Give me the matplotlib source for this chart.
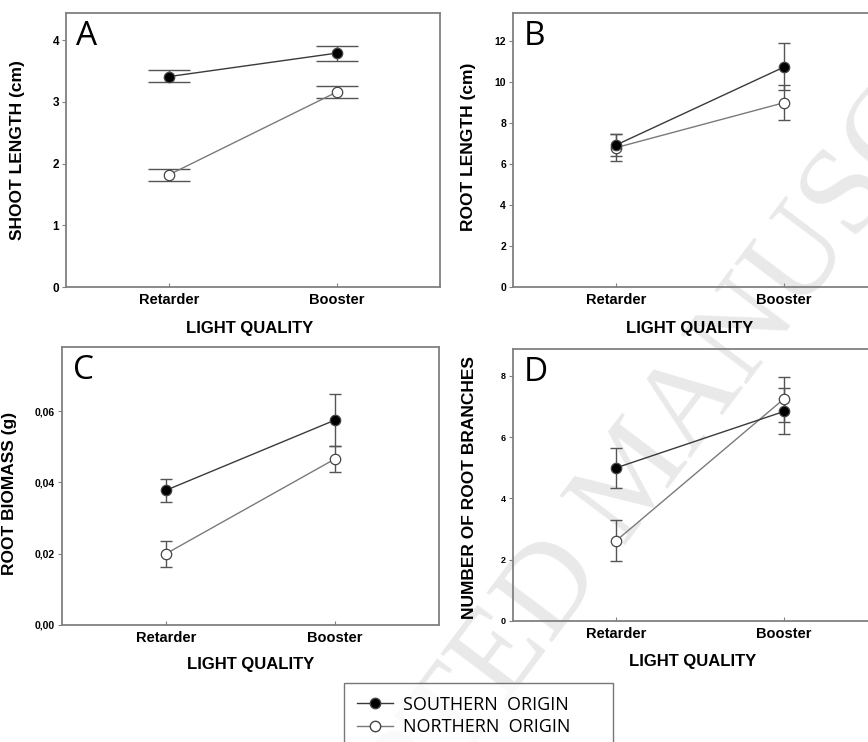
import matplotlib
matplotlib.use("Agg")
import matplotlib.pyplot as plt
from matplotlib.lines import Line2D
from matplotlib.ticker import FuncFormatter

# ---- data (mean, lower and upper error-bar ends) ----
categories = ["Retarder", "Booster"]

shoot_south = [3.41, 3.79]
shoot_south_lo = [3.33, 3.67]
shoot_south_hi = [3.51, 3.91]
shoot_north = [1.82, 3.16]
shoot_north_lo = [1.72, 3.07]
shoot_north_hi = [1.91, 3.25]

root_south = [6.93, 10.73]
root_south_lo = [6.38, 9.61]
root_south_hi = [7.47, 11.89]
root_north = [6.80, 8.99]
root_north_lo = [6.13, 8.13]
root_north_hi = [7.45, 9.85]

biomass_south = [0.0378, 0.0575]
biomass_south_lo = [0.0346, 0.0503]
biomass_south_hi = [0.0411, 0.0649]
biomass_north = [0.0200, 0.0466]
biomass_north_lo = [0.0162, 0.0428]
biomass_north_hi = [0.0237, 0.0503]

branch_south = [5.00, 6.84]
branch_south_lo = [4.33, 6.11]
branch_south_hi = [5.66, 7.60]
branch_north = [2.62, 7.25]
branch_north_lo = [1.95, 6.51]
branch_north_hi = [3.30, 7.98]

ARIAL = "Liberation Sans"
THIN = "Open Sans"
FRAME = "#808080"
W, H = 868, 742


def px_box(left, top, right, bottom):
    return [left / W, 1 - bottom / H, (right - left) / W, (bottom - top) / H]


def panel(ax, letter, ylabel, ymax, yticks, south, s_lo, s_hi, north, n_lo, n_hi,
          capsize, tick_fs, ylab_xy, xlab_xy, comma=False):
    x = [1, 2]
    ax.set_facecolor("none")
    for mean, lo, hi, line_c, face, z in (
            (south, s_lo, s_hi, "#3a3a3a", "black", 4),
            (north, n_lo, n_hi, "#7a7a7a", "white", 3)):
        err = [[m - l for m, l in zip(mean, lo)], [h - m for m, h in zip(mean, hi)]]
        ax.errorbar(x, mean, yerr=err, fmt="none", ecolor="#555555", elinewidth=1.0,
                    capsize=capsize, capthick=1.0, zorder=z - 1)
        ax.plot(x, mean, "-", color=line_c, lw=1.0, zorder=z)
        ax.plot(x, mean, "o", ms=7.5, mfc=face, mec="#444444", mew=0.9, zorder=z + 2)

    ax.set_xlim(0.385, 2.615)
    ax.set_ylim(0, ymax)
    ax.set_yticks(yticks)
    if comma:
        ax.yaxis.set_major_formatter(FuncFormatter(lambda v, p: f"{v:.2f}".replace(".", ",")))
    ax.set_xticks(x)
    ax.set_xticklabels(categories, fontsize=10.5, fontweight="bold", family=ARIAL)
    for lab in ax.get_yticklabels():
        lab.set_fontsize(tick_fs)
        lab.set_fontweight("bold")
        lab.set_family(ARIAL)
    ax.tick_params(axis="y", direction="out", length=3, width=0.8, color=FRAME, pad=2)
    ax.tick_params(axis="x", direction="in", length=3, width=0.8, color=FRAME, pad=4)
    for sp in ax.spines.values():
        sp.set_color(FRAME)
        sp.set_linewidth(1.3)

    ax.set_ylabel(ylabel, fontsize=12.5, fontweight="bold", family=ARIAL)
    ax.yaxis.set_label_coords(*ylab_xy)
    ax.set_xlabel("LIGHT QUALITY", fontsize=12, fontweight="bold", family=ARIAL)
    ax.xaxis.set_label_coords(*xlab_xy)
    ax.text(0.028, 0.975, letter, transform=ax.transAxes, ha="left", va="top",
            fontsize=24, family=THIN)


fig = plt.figure(figsize=(W / 100, H / 100), dpi=100)

# faint diagonal watermark, kept behind everything else
fig.text(0.735, 0.355, "ACCEPTED MANUSCRIPT", fontsize=90, family="Liberation Serif",
         color="#e9e9e9", rotation=53, rotation_mode="anchor",
         ha="center", va="center", zorder=-1)

ax_a = fig.add_axes(px_box(66, 13, 440, 287))
ax_b = fig.add_axes(px_box(513, 13, 887, 287))
ax_c = fig.add_axes(px_box(62, 347, 439, 625))
ax_d = fig.add_axes(px_box(513, 349, 887, 621))

panel(ax_a, "A", "SHOOT LENGTH (cm)", 4.44, [0, 1, 2, 3, 4],
      shoot_south, shoot_south_lo, shoot_south_hi,
      shoot_north, shoot_north_lo, shoot_north_hi,
      capsize=15, tick_fs=8.5, ylab_xy=(-0.11, 0.5), xlab_xy=(0.49, -0.125))
panel(ax_b, "B", "ROOT LENGTH (cm)", 13.37, [0, 2, 4, 6, 8, 10, 12],
      root_south, root_south_lo, root_south_hi,
      root_north, root_north_lo, root_north_hi,
      capsize=4.5, tick_fs=7.5, ylab_xy=(-0.099, 0.51), xlab_xy=(0.473, -0.125))
panel(ax_c, "C", "ROOT BIOMASS (g)", 0.078, [0, 0.02, 0.04, 0.06],
      biomass_south, biomass_south_lo, biomass_south_hi,
      biomass_north, biomass_north_lo, biomass_north_hi,
      capsize=4.5, tick_fs=7.5, ylab_xy=(-0.119, 0.475), xlab_xy=(0.5, -0.115),
      comma=True)
panel(ax_d, "D", "NUMBER OF ROOT BRANCHES", 8.88, [0, 2, 4, 6, 8],
      branch_south, branch_south_lo, branch_south_hi,
      branch_north, branch_north_lo, branch_north_hi,
      capsize=4.5, tick_fs=6.5, ylab_xy=(-0.096, 0.49), xlab_xy=(0.48, -0.12))

handles = [
    Line2D([], [], color="#3a3a3a", lw=1.0, marker="o", ms=7.5, mfc="black", mec="#444444"),
    Line2D([], [], color="#7a7a7a", lw=1.0, marker="o", ms=7.5, mfc="white", mec="#444444"),
]
# box spans 344..613 px horizontally, its top at 683 px
leg = fig.legend(handles, ["SOUTHERN  ORIGIN", "NORTHERN  ORIGIN"],
                 loc="upper left", mode="expand",
                 bbox_to_anchor=(344 / W, 1 - 683 / H - 0.1, 269 / W, 0.1),
                 frameon=True, fancybox=False, edgecolor="#555555",
                 prop={"family": THIN, "size": 13}, handlelength=2.0,
                 handletextpad=0.55, borderpad=0.7, labelspacing=0.25,
                 borderaxespad=0)
leg.get_frame().set_linewidth(1.0)

fig.savefig("out.png", dpi=100)
